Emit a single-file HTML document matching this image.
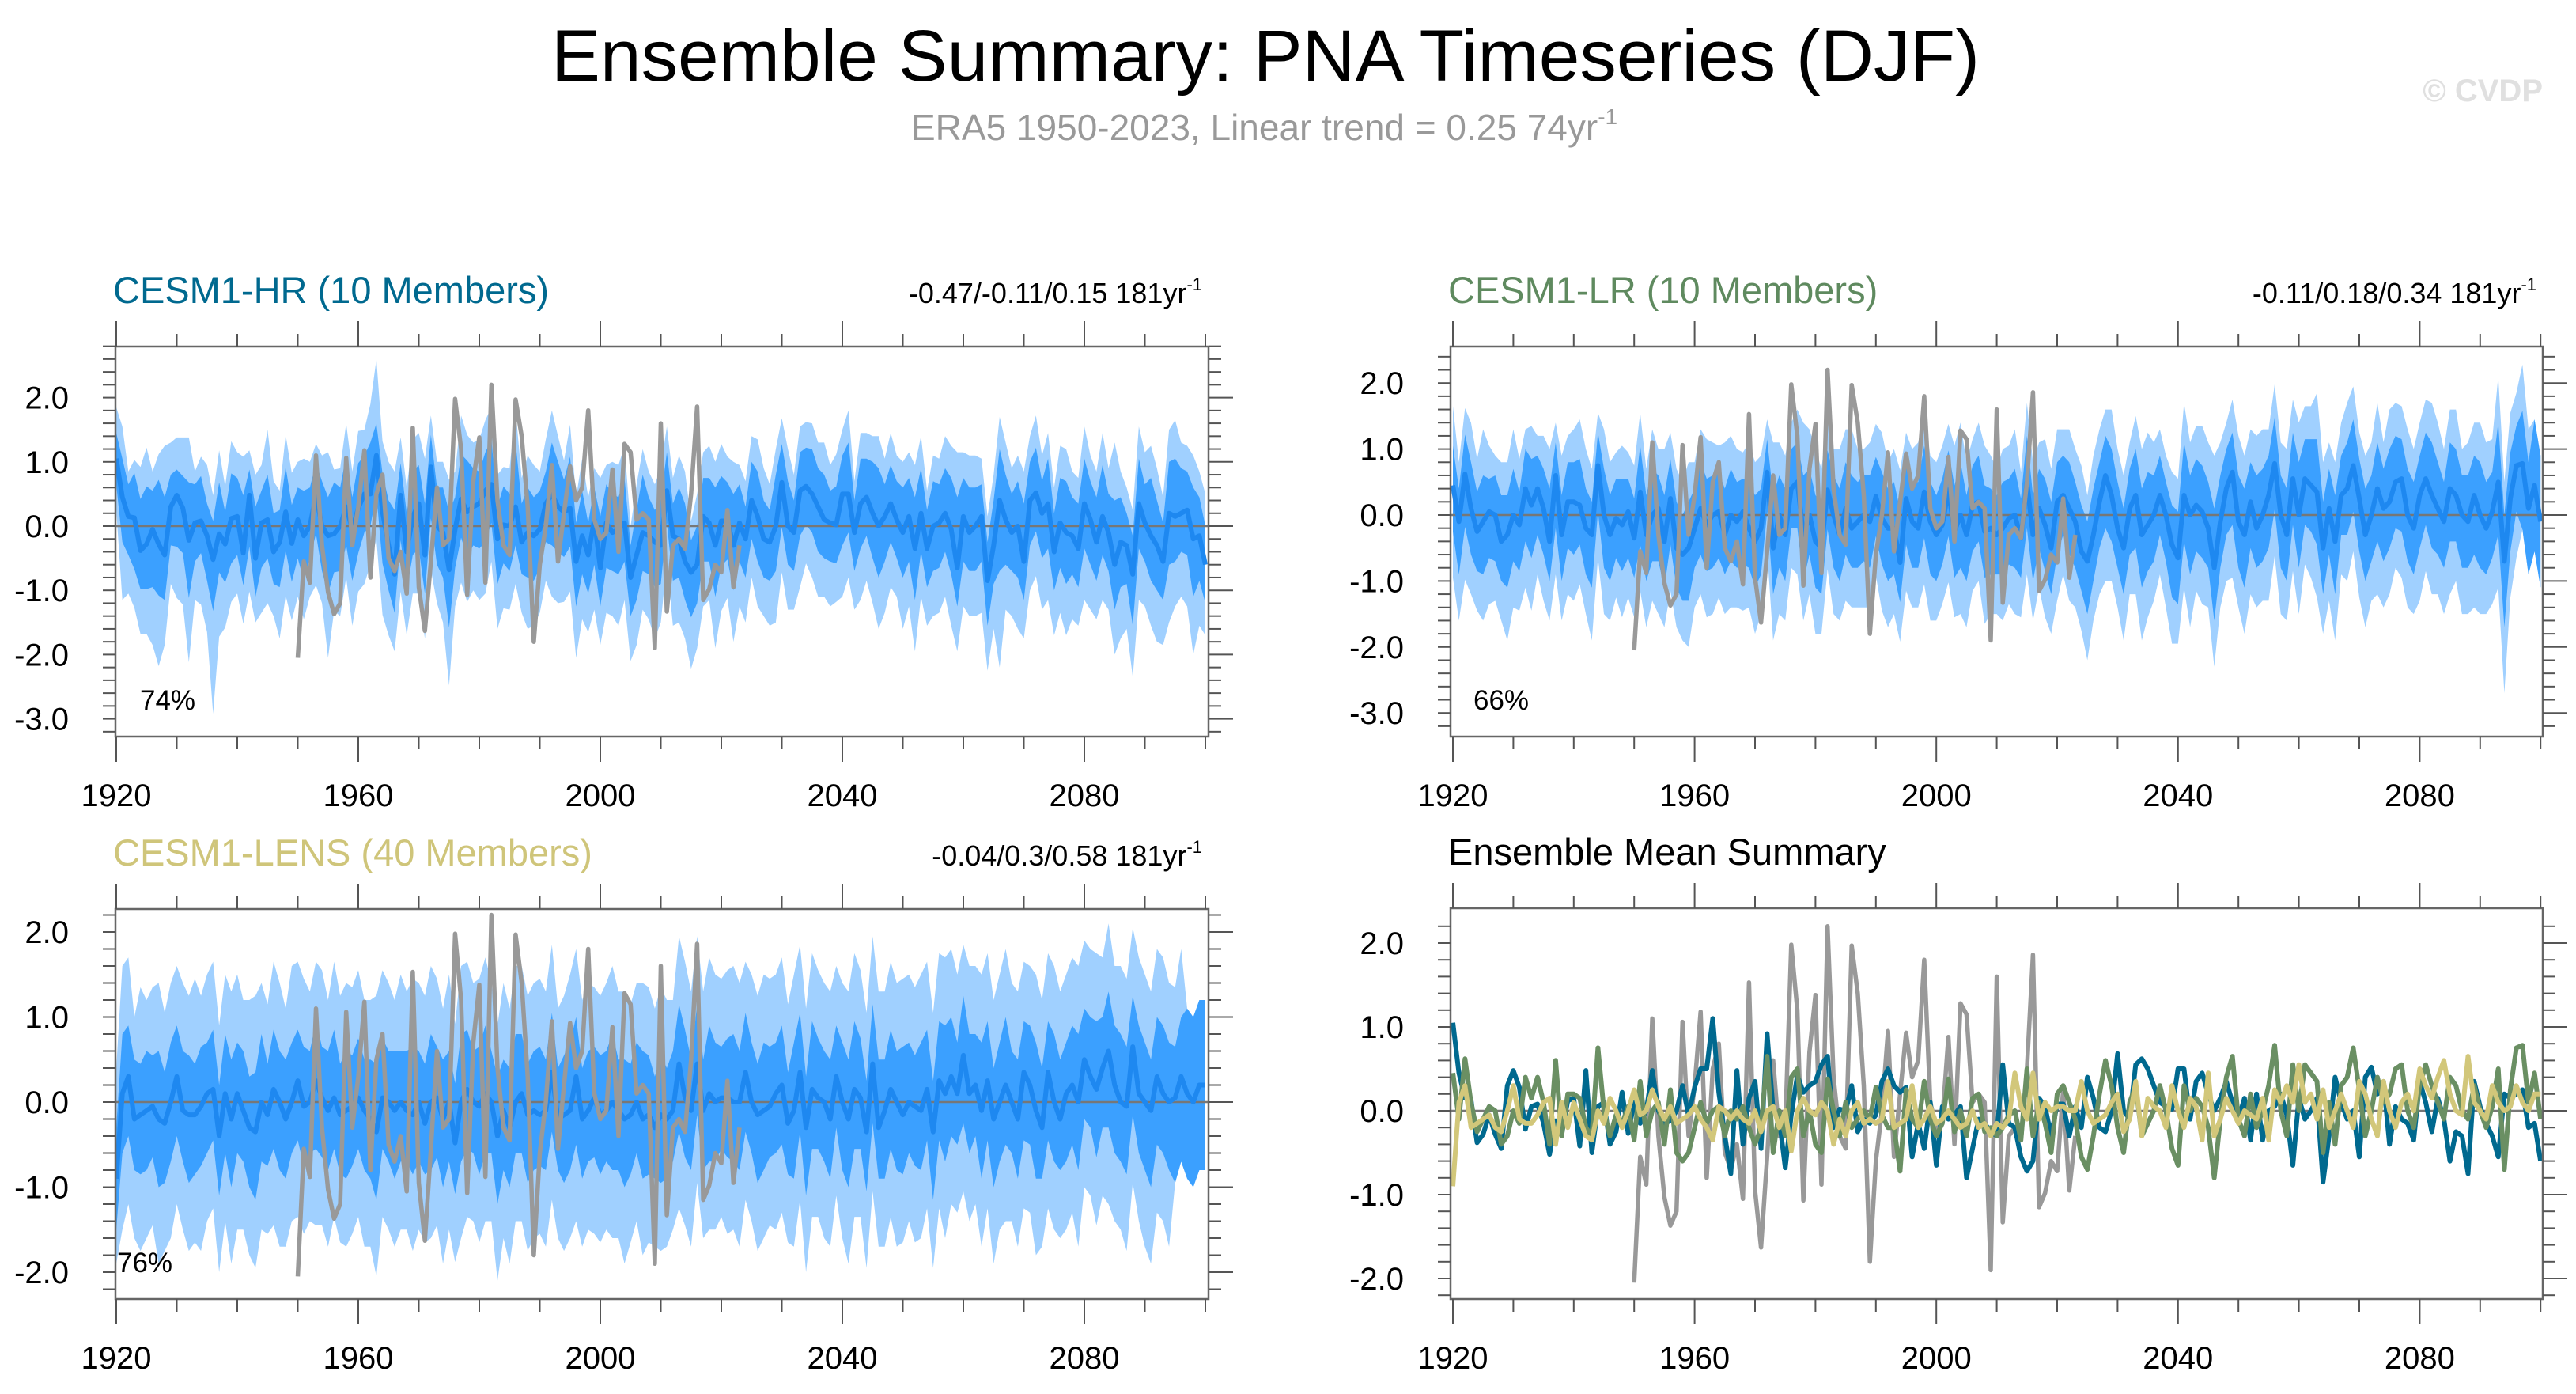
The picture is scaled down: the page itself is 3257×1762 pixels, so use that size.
<!DOCTYPE html>
<html><head><meta charset="utf-8"><style>
html,body{margin:0;padding:0;background:#fff;}
svg{display:block;font-family:"Liberation Sans",Arial,sans-serif;}
</style></head><body>
<svg id="chart" width="3257" height="1762" viewBox="0 0 3257 1762" xmlns="http://www.w3.org/2000/svg">
<rect x="0" y="0" width="3257" height="1762" fill="#fff"/>
<text x="1600" y="102" font-size="92" text-anchor="middle" textLength="1806" lengthAdjust="spacingAndGlyphs" fill="#000">Ensemble Summary: PNA Timeseries (DJF)</text>
<text x="1152" y="177" font-size="46" fill="#999">ERA5 1950-2023, Linear trend = 0.25 74yr<tspan dy="-20" font-size="28">-1</tspan></text>
<text x="3215" y="128" font-size="40" font-weight="bold" text-anchor="end" fill="#e0e0e0">© CVDP</text>
<g id="panels"></g>
</svg>
<script>
const startYear = 1920;
const era5Start = 1950;
const era5 = [-2.05,-0.55,-0.88,1.1,-0.3,-1.03,-1.37,-1.2,1.06,-0.3,
0.3,1.18,-0.8,0.5,0.8,-0.5,-0.7,-0.4,-1.05,1.53,
-0.95,-1.63,-0.55,0.6,-0.3,-0.2,1.98,1.2,-1.07,0.7,
1.38,-0.88,2.2,0.4,-0.3,-0.45,1.97,1.4,0.3,-1.8,
-0.6,0.0,0.95,-0.55,0.2,0.93,0.4,0.6,1.8,0.1,
-0.2,-0.1,0.88,-0.4,1.28,1.15,0.1,0.2,0.1,-1.9,
1.6,-1.33,-0.3,-0.2,-0.35,0.5,1.86,-1.15,-0.98,-0.6,
-0.72,0.25,-0.95,-0.3];
const hrMean = [1.05,0.45,0.15,0.13,-0.38,-0.28,-0.05,-0.28,-0.45,0.3,
0.48,0.28,-0.22,0.05,0.08,-0.15,-0.52,-0.12,-0.28,0.12,
0.15,-0.42,0.48,-0.5,0.05,0.1,-0.4,-0.25,0.22,-0.27,
0.1,-0.15,0.0,0.48,0.0,-0.15,-0.12,0.0,0.3,-0.05,
0.28,0.5,0.5,1.1,0.22,-0.3,-0.75,0.48,-0.4,0.15,
0.35,-0.45,0.92,0.0,-0.1,-0.68,-0.05,0.42,0.22,0.3,
0.35,0.55,0.65,-0.2,0.02,0.0,0.3,-0.25,-0.1,-0.15,
-0.05,0.35,0.5,0.3,0.22,0.28,-0.55,-0.15,-0.45,0.1,
-0.65,0.05,-0.1,-0.05,0.05,-0.8,-0.45,-0.1,-0.15,-0.25,
-0.3,0.55,-0.15,-0.2,-0.55,-0.72,-0.6,0.15,0.05,-0.3,
0.08,0.08,-0.3,0.05,-0.2,0.4,0.15,-0.2,-0.25,0.0,
0.68,0.0,-0.1,0.55,0.62,0.5,0.3,0.1,0.05,0.02,
0.5,0.5,-0.1,0.35,0.45,0.2,0.0,0.15,0.35,0.1,
-0.1,0.15,-0.35,0.2,-0.35,0.0,0.05,0.2,-0.05,-0.65,
0.15,-0.1,0.0,0.15,-0.85,-0.3,0.4,0.1,-0.1,0.0,
-0.55,0.4,0.52,0.2,0.35,-0.4,0.05,-0.1,-0.15,-0.35,
0.35,0.1,-0.25,0.15,-0.1,-0.6,-0.25,-0.3,-0.75,0.35,
0.05,-0.15,-0.3,-0.55,0.2,0.15,0.2,0.25,-0.2,-0.15,
-0.6];
const lrMean = [0.45,-0.1,0.62,0.1,-0.25,-0.1,0.05,0.0,-0.4,-0.3,
0.0,-0.15,0.4,0.15,0.4,0.1,-0.4,0.6,-0.3,0.2,
0.2,0.15,-0.2,-0.3,0.75,0.0,-0.3,-0.05,-0.15,0.05,
-0.35,0.35,-0.3,0.0,0.1,-0.4,0.25,-0.5,-0.6,-0.5,
-0.2,0.1,-0.15,0.0,0.05,-0.3,0.0,-0.1,0.05,-0.2,
-0.4,-0.2,0.65,-0.5,0.0,-0.3,0.4,0.5,-0.3,0.0,
-0.4,-0.5,0.38,0.0,-0.3,0.1,-0.2,-0.1,0.0,-0.1,
0.28,-0.05,-0.2,-0.2,-0.72,0.25,-0.1,-0.2,0.35,-0.1,
-0.3,-0.15,0.38,-0.25,0.0,-0.3,0.15,0.2,-0.25,-0.2,
-0.3,-0.2,-0.05,0.0,-0.35,0.5,-0.3,0.1,-0.15,-0.5,
0.2,0.3,0.1,-0.1,-0.55,-0.7,-0.3,0.2,0.6,0.3,
-0.2,-0.5,0.1,0.3,-0.3,-0.15,0.0,0.3,0.0,-0.45,
-0.65,0.3,0.0,0.15,0.05,-0.2,-0.8,-0.1,0.4,0.65,
-0.1,-0.3,0.2,-0.2,0.0,0.3,0.78,0.0,-0.3,0.55,
0.0,0.55,0.45,0.35,-0.5,0.1,-0.4,0.3,0.4,0.75,
0.25,-0.3,0.0,0.4,0.1,0.2,0.5,0.55,0.0,-0.2,
0.3,0.55,0.3,0.1,-0.1,0.4,0.3,0.0,-0.1,0.3,
0.0,-0.2,0.05,0.5,-0.7,0.25,0.75,0.78,0.1,0.45,
-0.1];
const lensMean = [-0.9,0.1,0.3,-0.2,-0.15,-0.1,-0.05,-0.2,-0.25,0.0,
0.3,-0.1,-0.15,-0.15,-0.05,0.1,0.15,-0.4,0.1,-0.2,
0.1,-0.1,-0.3,-0.35,0.0,-0.15,0.15,0.0,-0.2,0.0,
0.25,-0.05,0.0,0.25,0.05,-0.1,0.05,-0.15,-0.1,-0.05,
0.05,-0.1,-0.2,-0.35,0.05,0.0,-0.1,0.0,-0.1,-0.15,
0.0,-0.25,0.0,0.05,-0.2,0.0,-0.48,0.0,0.15,0.0,
-0.05,0.1,0.0,-0.4,-0.1,-0.3,0.0,0.1,-0.15,-0.1,
-0.15,-0.1,0.35,-0.2,-0.15,-0.1,0.3,-0.2,-0.1,0.05,
-0.15,-0.1,0.0,-0.1,-0.2,-0.15,0.0,-0.2,-0.15,-0.3,
-0.15,-0.2,-0.1,0.45,0.05,-0.1,0.45,-0.1,0.1,0.0,
0.05,0.05,0.0,0.0,0.35,0.0,-0.15,-0.1,-0.05,0.1,
0.2,-0.25,-0.1,0.35,-0.3,0.15,0.05,0.0,-0.2,0.3,
0.0,-0.2,0.15,0.05,-0.35,0.45,-0.3,-0.1,0.15,0.0,
-0.15,0.0,-0.05,-0.1,0.15,-0.35,0.25,0.1,0.3,0.1,
0.55,0.1,0.2,-0.1,0.25,-0.2,0.0,0.2,0.0,-0.2,
0.35,0.2,-0.1,-0.3,0.35,0.0,-0.2,0.1,0.2,0.0,
0.5,0.3,0.15,0.4,0.6,0.2,0.0,-0.05,0.65,0.1,
0.0,-0.1,0.3,0.1,0.0,0.05,0.3,0.1,0.0,0.2,
0.2];
// band spreads (distance above / below ensemble mean)
const hrOuterUp = [0.8,1.1,0.7,0.9,1.3,1.5,0.9,1.4,1.7,1.0,0.9,1.1,1.6,0.8,1.0,1.1,1.0,1.3,0.9,1.2,1.0,1.5,0.7,1.3,0.9,1.4,1.1,0.8,1.2,1.1,0.9,1.2,1.0,0.8,1.1,1.3,1.0,0.9,1.3,0.9,1.2,1.0,1.4,1.5,1.1,1.3,1.6,0.9,1.0,1.2,1.1,1.5,0.8,1.0,1.1,1.4,0.9,1.3,1.2,1.0,1.0,1.1,1.2,1.0,0.9,0.9,1.5,1.0,1.2,1.1,0.9,1.0,1.3,1.1,0.8,1.3,1.0,1.2,0.9,0.8,1.4,0.9,1.1,1.0,1.2,0.8,1.1,1.3,1.0,0.9,1.2,1.0,0.9,1.3,1.4,0.8,1.1,1.0,1.2,1.3,1.2,1.0,1.3,0.9,0.9,1.0,1.2,1.1,0.9,1.2,1.0,1.2,0.9,1.0,1.0,1.1,1.0,1.2,0.9,1.1,1.0,1.3,0.8,1.1,1.0,1.2,1.4,0.9,1.1,1.0,1.1,1.0,1.3,1.2,0.9,1.1,1.0,1.2,1.3,1.8,1.0,1.2,1.1,0.9,1.0,1.1,1.3,1.2,1.0,1.1,1.4,1.0,1.2,0.9,1.1,1.0,1.2,1.3,1.0,1.1,1.2,1.0,1.1,1.3,1.0,1.9,1.1,0.9,1.0,1.2,1.1,1.4,1.2,1.0,1.3,1.5,1.1,1.0,1.3,1.0,1.1];
const hrOuterDn = [0.8,1.6,1.2,1.4,1.3,1.4,1.8,1.9,1.4,1.2,1.6,1.5,1.9,1.2,1.3,1.5,2.4,1.6,1.3,1.3,1.2,1.1,1.5,1.0,1.4,1.3,1.0,1.5,1.3,1.2,1.2,1.3,1.1,1.4,1.2,1.9,1.2,1.4,1.1,1.5,1.3,1.4,1.1,1.3,1.6,1.4,1.2,1.5,1.3,1.2,1.4,1.3,1.6,1.2,1.4,1.8,1.2,1.3,1.4,1.3,1.5,1.6,1.2,1.4,1.3,1.3,1.2,1.1,1.5,1.4,1.3,1.2,1.6,1.5,1.4,1.3,1.5,1.3,1.2,1.4,1.2,1.4,1.3,1.5,1.2,1.3,1.4,1.2,1.3,1.5,1.2,1.1,1.4,1.3,1.2,1.5,1.3,1.4,1.2,1.6,1.4,1.2,1.5,1.3,1.3,1.2,1.4,1.2,1.3,1.5,1.4,1.3,1.2,1.5,1.2,1.3,1.4,1.2,1.3,1.2,1.6,1.3,1.2,1.5,1.3,1.4,1.6,1.5,1.3,1.2,1.5,1.4,1.6,1.3,1.2,1.4,1.4,1.3,1.5,1.3,1.4,1.3,1.4,1.5,1.4,1.3,2.6,1.4,1.3,1.6,1.2,1.4,1.3,1.5,1.5,1.3,1.4,1.6,1.3,1.2,1.5,1.4,1.2,1.3,1.2,1.4,1.5,1.3,1.6,1.5,1.3,1.4,1.5,1.3,1.7,1.4,1.3,1.5,1.8,1.4,1.1];
const hrInnerUp = [0.4,0.6,0.5,0.7,0.8,0.9,0.6,1.0,0.9,0.5,0.4,0.5,0.9,0.6,0.7,0.5,0.6,0.8,0.5,0.7,0.6,0.9,0.4,0.8,0.5,0.7,0.6,0.5,0.7,0.6,0.5,0.7,0.6,0.5,0.7,0.6,0.8,0.6,0.8,0.5,0.7,0.6,0.8,0.5,0.6,0.7,1.0,0.5,0.6,0.7,0.6,0.8,0.5,0.6,0.7,0.9,0.5,0.7,0.8,0.6,0.5,0.6,0.7,0.5,0.6,0.5,1.0,0.6,0.7,0.6,0.6,0.5,0.8,0.7,0.5,0.8,0.6,0.7,0.5,0.5,0.8,0.6,0.6,0.5,0.7,0.5,0.7,0.9,0.6,0.5,0.7,0.6,0.5,0.8,0.9,0.5,0.6,0.6,0.7,0.9,0.7,0.6,0.8,0.6,0.5,0.6,0.7,0.6,0.5,0.8,0.6,0.7,0.5,0.6,0.6,0.7,0.6,0.7,0.5,0.6,0.6,0.8,0.5,0.7,0.6,0.8,0.9,0.5,0.6,0.6,0.7,0.6,0.8,0.7,0.6,0.7,0.6,0.7,0.8,1.1,0.6,0.7,0.6,0.5,0.6,0.7,0.8,0.7,0.6,0.7,0.9,0.6,0.7,0.5,0.7,0.6,0.7,0.8,0.6,0.7,0.7,0.6,0.7,0.8,0.6,1.0,0.7,0.5,0.6,0.7,0.6,0.9,0.7,0.6,0.8,0.9,0.7,0.6,0.8,0.6,0.6];
const hrInnerDn = [0.4,0.7,0.6,0.8,0.6,0.7,0.9,0.8,0.7,0.6,0.8,0.7,0.9,0.6,0.5,0.7,0.8,0.6,0.6,0.7,0.6,0.5,0.8,0.6,0.7,0.6,0.5,0.7,0.6,0.6,0.6,0.7,0.5,0.6,0.7,0.9,0.6,0.7,0.6,0.8,0.7,0.6,0.5,0.6,0.8,0.7,0.6,0.7,0.6,0.6,0.7,0.6,0.8,0.6,0.7,0.9,0.6,0.6,0.7,0.6,0.7,0.8,0.6,0.7,0.6,0.7,0.6,0.5,0.7,0.7,0.6,0.6,0.8,0.7,0.7,0.6,0.7,0.6,0.6,0.7,0.6,0.7,0.6,0.7,0.6,0.6,0.7,0.6,0.6,0.7,0.6,0.5,0.7,0.6,0.6,0.7,0.6,0.7,0.6,0.8,0.7,0.6,0.7,0.6,0.6,0.6,0.7,0.6,0.6,0.7,0.7,0.6,0.6,0.7,0.6,0.6,0.7,0.6,0.6,0.6,0.8,0.6,0.6,0.7,0.6,0.7,0.8,0.7,0.6,0.6,0.7,0.7,0.8,0.6,0.6,0.7,0.7,0.6,0.7,0.6,0.7,0.6,0.7,0.7,0.7,0.6,1.1,0.7,0.6,0.8,0.6,0.7,0.6,0.7,0.7,0.6,0.7,0.8,0.6,0.6,0.7,0.7,0.6,0.6,0.6,0.7,0.7,0.6,0.8,0.7,0.6,0.7,0.7,0.6,0.8,0.7,0.6,0.7,0.9,0.7,0.6];
const lrOuterUp = [1.2,0.9,1.0,1.3,1.1,1.4,1.0,0.9,1.2,1.1,1.3,1.0,0.9,1.2,0.8,1.1,1.4,0.8,1.2,1.0,1.1,1.3,1.2,1.0,0.8,1.3,1.1,1.0,1.2,0.9,1.1,1.2,1.0,1.3,0.9,1.4,1.0,1.2,1.1,1.3,1.0,1.2,1.3,1.1,1.0,1.4,1.2,1.1,0.9,1.3,1.2,1.1,0.8,1.6,1.1,1.2,1.0,1.1,1.7,1.3,1.4,1.2,1.1,1.0,1.3,1.2,1.5,1.1,1.0,1.2,1.1,1.3,1.0,1.2,1.4,1.0,1.1,1.3,1.2,1.0,1.1,1.2,1.0,1.3,1.4,1.1,1.0,1.2,1.3,1.1,1.0,1.2,1.1,1.3,1.0,1.2,1.1,1.0,1.3,1.2,1.1,1.0,1.2,1.1,1.3,1.0,1.2,1.1,1.0,1.3,1.2,1.1,1.0,1.2,1.3,1.4,1.1,1.0,0.9,1.1,1.2,1.4,1.1,1.2,1.3,1.3,1.7,1.2,1.0,1.1,1.3,1.2,1.1,1.4,1.3,1.0,1.2,1.1,1.3,1.2,1.4,1.1,1.2,1.5,1.3,1.0,1.2,1.1,1.3,1.2,1.0,1.2,1.1,1.3,1.0,1.4,1.2,1.1,1.3,1.2,1.1,1.2,1.4,1.3,1.1,1.2,1.3,1.0,1.2,1.1,1.4,1.3,1.1,1.6,1.2,1.3,1.1,1.5,1.2];
const lrOuterDn = [1.4,1.5,1.6,1.3,1.2,1.5,1.4,1.3,1.2,1.6,1.4,1.3,1.5,1.6,1.3,1.4,1.2,1.5,1.3,1.4,1.5,1.2,1.3,1.6,1.4,1.5,1.3,1.2,1.4,1.3,1.2,1.5,1.4,1.3,1.6,1.3,1.4,1.2,1.3,1.5,1.2,1.3,1.4,1.5,1.3,1.2,1.4,1.3,1.5,1.2,1.4,1.3,1.2,1.4,1.5,1.3,1.2,1.4,1.3,1.2,1.4,1.3,1.2,1.5,1.3,1.4,1.2,1.3,1.4,1.3,1.2,1.4,1.5,1.3,1.2,1.4,1.3,1.2,1.4,1.5,1.3,1.2,1.4,1.3,1.5,1.4,1.3,1.2,1.4,1.3,1.2,1.4,1.3,1.5,1.2,1.4,1.3,1.2,1.4,1.3,1.5,1.2,1.4,1.3,1.2,1.5,1.3,1.4,1.6,1.3,1.2,1.4,1.3,1.5,1.6,1.4,1.3,1.2,1.4,1.5,1.3,1.4,1.7,1.3,1.4,1.2,1.5,1.3,1.4,1.6,1.3,1.5,1.4,1.2,1.3,1.6,1.4,1.5,1.3,1.4,1.5,1.3,1.4,1.6,1.3,1.4,1.5,1.2,1.4,1.3,1.5,1.4,1.3,1.6,1.5,1.4,1.3,1.5,1.4,1.3,1.6,1.4,1.5,1.3,1.4,1.6,1.3,1.5,1.4,1.7,1.5,1.3,1.4,1.6,2.0,1.5,1.4];
const lrInnerUp = [0.6,0.5,0.6,0.7,0.6,0.7,0.5,0.6,0.7,0.6,0.7,0.5,0.6,0.7,0.5,0.6,0.8,0.5,0.6,0.6,0.6,0.7,0.6,0.5,0.5,0.7,0.6,0.6,0.7,0.5,0.6,0.7,0.6,0.7,0.5,0.7,0.6,0.7,0.6,0.7,0.6,0.7,0.7,0.6,0.6,0.7,0.7,0.6,0.5,0.7,0.7,0.6,0.5,0.8,0.6,0.7,0.6,0.6,0.9,0.7,0.7,0.7,0.6,0.6,0.7,0.7,0.8,0.6,0.6,0.7,0.6,0.7,0.6,0.7,0.8,0.6,0.6,0.7,0.7,0.6,0.6,0.7,0.6,0.7,0.8,0.6,0.6,0.7,0.7,0.6,0.6,0.7,0.6,0.7,0.6,0.7,0.6,0.6,0.7,0.7,0.6,0.6,0.7,0.6,0.7,0.6,0.7,0.6,0.6,0.7,0.7,0.6,0.6,0.7,0.7,0.8,0.6,0.6,0.5,0.6,0.7,0.8,0.6,0.7,0.7,0.7,0.9,0.7,0.6,0.6,0.7,0.7,0.6,0.8,0.7,0.6,0.7,0.6,0.7,0.7,0.8,0.6,0.7,0.8,0.7,0.6,0.7,0.6,0.7,0.7,0.6,0.7,0.6,0.7,0.6,0.8,0.7,0.6,0.7,0.7,0.6,0.7,0.8,0.7,0.6,0.7,0.7,0.6,0.7,0.6,0.8,0.7,0.6,0.9,0.7,0.7,0.6,0.8,0.7];
const lrInnerDn = [0.7,0.8,0.8,0.7,0.6,0.8,0.7,0.7,0.6,0.8,0.7,0.7,0.8,0.8,0.7,0.7,0.6,0.8,0.7,0.7,0.8,0.6,0.7,0.8,0.7,0.8,0.7,0.6,0.7,0.7,0.6,0.8,0.7,0.7,0.8,0.7,0.7,0.6,0.7,0.8,0.6,0.7,0.7,0.8,0.7,0.6,0.7,0.7,0.8,0.6,0.7,0.7,0.6,0.7,0.8,0.7,0.6,0.7,0.7,0.6,0.7,0.7,0.6,0.8,0.7,0.7,0.6,0.7,0.7,0.7,0.6,0.7,0.8,0.7,0.6,0.7,0.7,0.6,0.7,0.8,0.7,0.6,0.7,0.7,0.8,0.7,0.7,0.6,0.7,0.7,0.6,0.7,0.7,0.8,0.6,0.7,0.7,0.6,0.7,0.7,0.8,0.6,0.7,0.7,0.6,0.8,0.7,0.7,0.8,0.7,0.6,0.7,0.7,0.8,0.8,0.7,0.7,0.6,0.7,0.8,0.7,0.7,0.9,0.7,0.7,0.6,0.8,0.7,0.7,0.8,0.7,0.8,0.7,0.6,0.7,0.8,0.7,0.8,0.7,0.7,0.8,0.7,0.7,0.8,0.7,0.7,0.8,0.6,0.7,0.7,0.8,0.7,0.7,0.8,0.8,0.7,0.7,0.8,0.7,0.7,0.8,0.7,0.8,0.7,0.7,0.8,0.7,0.8,0.7,0.9,0.8,0.7,0.7,0.8,1.0,0.8,0.7];
const lensOuterUp = [1.3,1.5,1.4,1.2,1.5,1.3,1.4,1.6,1.3,1.4,1.3,1.5,1.4,1.6,1.3,1.4,1.5,1.3,1.4,1.5,1.4,1.3,1.5,1.6,1.4,1.3,1.5,1.4,1.3,1.6,1.4,1.5,1.3,1.4,1.5,1.3,1.6,1.4,1.5,1.4,1.5,1.3,1.4,1.6,1.5,1.4,1.3,1.5,1.4,1.6,1.4,1.5,1.6,1.4,1.3,1.5,1.4,1.6,1.5,1.4,1.5,1.6,1.4,1.3,1.5,1.4,1.6,1.5,1.4,1.5,1.6,1.4,1.5,1.3,1.4,1.6,1.5,1.4,1.5,1.3,1.4,1.5,1.6,1.4,1.5,1.3,1.4,1.6,1.5,1.4,1.5,1.4,1.3,1.5,1.6,1.4,1.5,1.4,1.6,1.5,1.4,1.5,1.6,1.4,1.3,1.5,1.4,1.6,1.5,1.4,1.5,1.4,1.6,1.5,1.4,1.6,1.5,1.4,1.5,1.3,1.4,1.5,1.6,1.5,1.4,1.5,1.6,1.4,1.5,1.4,1.6,1.5,1.4,1.6,1.5,1.4,1.5,1.6,1.5,1.4,1.3,1.5,1.4,1.6,1.5,1.4,1.5,1.6,1.4,1.5,1.3,1.4,1.6,1.5,1.4,1.6,1.5,1.4,1.5,1.6,1.4,1.5,1.6,1.3,1.5,1.4,1.6,1.5,1.4,1.6,1.5,1.4,1.5,1.6,1.4,1.3,1.5];
const lensOuterDn = [1.0,1.6,1.5,1.4,1.6,1.5,1.4,1.7,1.5,1.6,1.5,1.4,1.6,1.5,1.7,1.5,1.4,1.6,1.5,1.7,1.6,1.4,1.5,1.6,1.5,1.4,1.6,1.7,1.5,1.4,1.6,1.5,1.4,1.7,1.5,1.6,1.4,1.5,1.6,1.5,1.4,1.6,1.5,1.7,1.4,1.5,1.6,1.5,1.4,1.6,1.5,1.4,1.6,1.5,1.7,1.5,1.4,1.6,1.5,1.4,1.6,1.5,1.4,1.7,1.5,1.6,1.4,1.5,1.6,1.5,1.4,1.6,1.5,1.4,1.6,1.5,1.7,1.5,1.4,1.6,1.5,1.4,1.6,1.5,1.7,1.5,1.4,1.6,1.5,1.4,1.6,1.5,1.4,1.7,1.5,1.6,1.4,1.5,1.6,1.5,1.4,1.6,1.5,1.7,1.5,1.4,1.6,1.5,1.4,1.6,1.5,1.4,1.6,1.5,1.7,1.5,1.4,1.6,1.5,1.4,1.6,1.7,1.5,1.4,1.6,1.5,1.4,1.6,1.5,1.7,1.5,1.4,1.6,1.5,1.4,1.6,1.5,1.7,1.5,1.4,1.6,1.5,1.4,1.6,1.5,1.7,1.5,1.6,1.4,1.5,1.6,1.5,1.7,1.4,1.6,1.5,1.4,1.6,1.5,1.7,1.5,1.4,1.6,1.5,1.8,1.6,1.5,1.7,1.6,1.5,1.7,1.8,1.6,1.5,1.7];
const lensInnerUp = [0.6,0.7,0.6,0.7,0.6,0.7,0.6,0.8,0.6,0.7,0.6,0.7,0.7,0.6,0.7,0.6,0.7,0.6,0.7,0.7,0.6,0.7,0.6,0.7,0.8,0.6,0.7,0.6,0.7,0.7,0.6,0.7,0.6,0.7,0.6,0.7,0.8,0.6,0.7,0.6,0.7,0.6,0.7,0.8,0.7,0.6,0.7,0.6,0.7,0.8,0.6,0.7,0.8,0.6,0.7,0.6,0.7,0.8,0.7,0.6,0.7,0.8,0.6,0.7,0.6,0.7,0.8,0.7,0.6,0.7,0.8,0.6,0.7,0.6,0.7,0.8,0.7,0.6,0.7,0.6,0.7,0.7,0.8,0.6,0.7,0.6,0.7,0.8,0.7,0.6,0.7,0.6,0.7,0.7,0.8,0.6,0.7,0.6,0.8,0.7,0.6,0.7,0.8,0.6,0.7,0.7,0.6,0.8,0.7,0.6,0.7,0.6,0.8,0.7,0.6,0.8,0.7,0.6,0.7,0.6,0.7,0.7,0.8,0.7,0.6,0.7,0.8,0.6,0.7,0.6,0.8,0.7,0.6,0.8,0.7,0.6,0.7,0.8,0.7,0.6,0.7,0.7,0.6,0.8,0.7,0.6,0.7,0.8,0.6,0.7,0.6,0.7,0.8,0.7,0.6,0.8,0.7,0.6,0.7,0.8,0.6,0.7,0.8,0.6,0.7,0.7,0.8,0.7,0.6,0.8,0.7,0.6,0.7,0.8,0.7,0.6,0.7];
const lensInnerDn = [0.6,0.7,0.7,0.6,0.7,0.7,0.6,0.8,0.7,0.7,0.7,0.6,0.8,0.7,0.7,0.7,0.6,0.7,0.7,0.8,0.7,0.6,0.7,0.8,0.7,0.6,0.7,0.8,0.7,0.6,0.7,0.7,0.6,0.8,0.7,0.7,0.6,0.7,0.8,0.7,0.6,0.7,0.7,0.8,0.6,0.7,0.8,0.7,0.6,0.7,0.7,0.6,0.8,0.7,0.8,0.7,0.6,0.7,0.7,0.6,0.8,0.7,0.6,0.8,0.7,0.7,0.6,0.7,0.8,0.7,0.6,0.7,0.7,0.6,0.8,0.7,0.8,0.7,0.6,0.7,0.7,0.6,0.8,0.7,0.8,0.7,0.6,0.7,0.7,0.6,0.8,0.7,0.6,0.8,0.7,0.7,0.6,0.7,0.8,0.7,0.6,0.7,0.7,0.8,0.7,0.6,0.8,0.7,0.6,0.7,0.7,0.6,0.8,0.7,0.8,0.7,0.6,0.7,0.7,0.6,0.8,0.8,0.7,0.6,0.7,0.7,0.6,0.8,0.7,0.8,0.7,0.6,0.7,0.7,0.6,0.8,0.7,0.8,0.7,0.6,0.8,0.7,0.6,0.8,0.7,0.8,0.7,0.7,0.6,0.7,0.8,0.7,0.8,0.6,0.8,0.7,0.6,0.8,0.7,0.8,0.7,0.6,0.8,0.7,0.9,0.8,0.7,0.8,0.8,0.7,0.8,0.9,0.8,0.7,0.8];
const xTickYears = [1920,1960,2000,2040,2080];

const NS = 'http://www.w3.org/2000/svg';
const root = document.getElementById('panels');
function el(tag, attrs, parent){
  const e = document.createElementNS(NS, tag);
  for (const k in attrs) e.setAttribute(k, attrs[k]);
  (parent||root).appendChild(e);
  return e;
}
function band(mean, up, dn, xf, yf){
  const n = mean.length;
  let pts = [];
  for (let i=0;i<n;i++) pts.push(xf(startYear+i).toFixed(1)+','+yf(mean[i]+(up[i]!==undefined?up[i]:1)).toFixed(1));
  for (let i=n-1;i>=0;i--) pts.push(xf(startYear+i).toFixed(1)+','+yf(mean[i]-(dn[i]!==undefined?dn[i]:1)).toFixed(1));
  return pts.join(' ');
}

function drawPanel(p){
  const g = el('g', {});
  
  
  const xf = yr => p.x1920 + (yr-1920)*p.pxYear;
  const yf = v => p.y0 - v*p.pxUnit;
  const clipId = 'clip-'+p.name;
  const cp = el('clipPath', {id: clipId}, g);
  el('rect', {x:p.bx0, y:p.by0, width:p.bx1-p.bx0, height:p.by1-p.by0}, cp);
  const plot = el('g', {'clip-path':'url(#'+clipId+')'}, g);
  
  

  if (p.bands){
    const ob = el('polygon', {points: band(p.mean, p.outUp, p.outDn, xf, yf), fill:'#a0d0ff'}, plot);
    
    
    const ib = el('polygon', {points: band(p.mean, p.inUp, p.inDn, xf, yf), fill:'#3ba0ff'}, plot);
    
    
  }
  const zl = el('line', {x1:p.bx0, x2:p.bx1, y1:yf(0), y2:yf(0), stroke:'#777', 'stroke-width':2.5}, plot);
  
  

  const line = (vals, yr0, color, w, name) => {
    const d = vals.map((v,i)=>(i?'L':'M')+xf(yr0+i).toFixed(1)+','+yf(v).toFixed(1)).join('');
    const pth = el('path', {d, fill:'none', stroke:color, 'stroke-width':w, 'stroke-linejoin':'round'}, plot);
    
    
  };
  if (p.bands){
    line(p.mean, startYear, '#1e88f0', 6, 'ensemble-mean-line');
    line(era5, era5Start, '#999999', 5.5, 'era5-line');
  } else {
    line(era5, era5Start, '#999999', 5.5, 'era5-line');
    line(hrMean, startYear, '#00698f', 6, 'cesm1-hr-mean-line');
    line(lrMean, startYear, '#6a8f63', 6, 'cesm1-lr-mean-line');
    line(lensMean, startYear, '#d2c77a', 6, 'cesm1-lens-mean-line');
  }

  const fr = el('rect', {x:p.bx0, y:p.by0, width:p.bx1-p.bx0, height:p.by1-p.by0, fill:'none', stroke:'#666', 'stroke-width':2.5}, g);
  
  

  for (let yr=1920; yr<=2100; yr+=10){
    const x = xf(yr); const major = (yr-1920)%40===0;
    const L = major?32:16;
    el('line', {x1:x, x2:x, y1:p.by0, y2:p.by0-L, stroke:'#555', 'stroke-width':2}, g);
    el('line', {x1:x, x2:x, y1:p.by1, y2:p.by1+L, stroke:'#555', 'stroke-width':2}, g);
  }
  xTickYears.forEach(yr=>{
    const t = el('text', {x:xf(yr), y:p.by1+88, 'font-size':40, 'text-anchor':'middle', fill:'#000'}, g);
    
    
    t.textContent = yr;
  });
  for (let k=Math.ceil(p.vmin*5); k<=Math.floor(p.vmax*5); k++){
    const v = k/5, y = yf(v), major = k%5===0;
    if (y < p.by0-1 || y > p.by1+1) continue;
    el('line', {x1:p.bx0, x2:p.bx0-16, y1:y, y2:y, stroke:'#555', 'stroke-width':2}, g);
    el('line', {x1:p.bx1, x2:p.bx1+(major?31:16), y1:y, y2:y, stroke:'#555', 'stroke-width':2}, g);
  }
  p.yTicks.forEach(v=>{
    const t = el('text', {x:p.bx0-59, y:yf(v)+14, 'font-size':40, 'text-anchor':'end', fill:'#000'}, g);
    
    
    t.textContent = v.toFixed(1);
  });
  const tt = el('text', {x:p.bx0-3, y:p.by0-55, 'font-size':47, fill:p.titleColor}, g);
  
  
  tt.textContent = p.title;
  if (p.trend){
    const tr = el('text', {x:p.bx1-8, y:p.by0-55, 'font-size':36, 'text-anchor':'end', fill:'#000'}, g);
    
    
    tr.textContent = p.trend;
    const sup = el('tspan', {dy:-16, 'font-size':22}, tr);
    sup.textContent = '-1';
  }
  if (p.pct){
    const pc = el('text', {x:p.bx0+p.pctDx, y:p.pctY, 'font-size':35, fill:'#000'}, g);
    
    
    pc.textContent = p.pct;
  }
}

drawPanel({name:'panel-cesm1-hr', bands:true, mean:hrMean, outUp:hrOuterUp, outDn:hrOuterDn, inUp:hrInnerUp, inDn:hrInnerDn,
  bx0:146, bx1:1528, by0:438, by1:931, x1920:147, pxYear:7.65, y0:665, pxUnit:81.2, vmin:-3.3, vmax:2.85,
  yTicks:[2,1,0,-1,-2,-3], title:'CESM1-HR (10 Members)', titleColor:'#00698f', trend:'-0.47/-0.11/0.15 181yr', pct:'74%', pctDx:31, pctY:897});
drawPanel({name:'panel-cesm1-lr', bands:true, mean:lrMean, outUp:lrOuterUp, outDn:lrOuterDn, inUp:lrInnerUp, inDn:lrInnerDn,
  bx0:1834, bx1:3215, by0:438, by1:931, x1920:1837, pxYear:7.64, y0:651, pxUnit:83.4, vmin:-3.35, vmax:2.6,
  yTicks:[2,1,0,-1,-2,-3], title:'CESM1-LR (10 Members)', titleColor:'#5f8a5f', trend:'-0.11/0.18/0.34 181yr', pct:'66%', pctDx:29, pctY:897});
drawPanel({name:'panel-cesm1-lens', bands:true, mean:lensMean, outUp:lensOuterUp, outDn:lensOuterDn, inUp:lensInnerUp, inDn:lensInnerDn,
  bx0:146, bx1:1528, by0:1149, by1:1642, x1920:147, pxYear:7.65, y0:1393, pxUnit:107.5, vmin:-2.3, vmax:2.3,
  yTicks:[2,1,0,-1,-2], title:'CESM1-LENS (40 Members)', titleColor:'#cfc57a', trend:'-0.04/0.3/0.58 181yr', pct:'76%', pctDx:2, pctY:1608});
drawPanel({name:'panel-ensemble-mean-summary', bands:false,
  bx0:1834, bx1:3215, by0:1148, by1:1642, x1920:1837, pxYear:7.64, y0:1404, pxUnit:106, vmin:-2.3, vmax:2.3,
  yTicks:[2,1,0,-1,-2], title:'Ensemble Mean Summary', titleColor:'#000'});
</script>
</body></html>
